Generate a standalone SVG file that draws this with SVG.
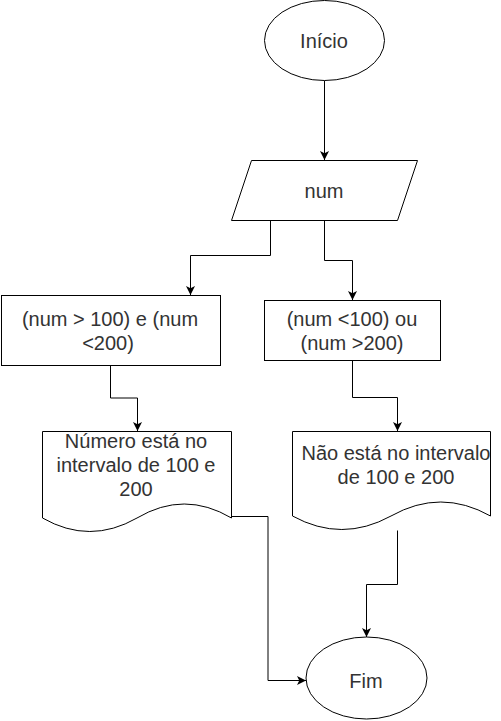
<svg xmlns="http://www.w3.org/2000/svg" width="501" height="721" viewBox="0 0 501 721">
<style>
.s{fill:#fff;stroke:#000;stroke-width:1}
.t{font-family:"Liberation Sans",Arial,sans-serif;font-size:20px;fill:#333;text-anchor:middle}
.c{fill:none;stroke:#000;stroke-width:1}
</style>
<defs>
<marker id="a" markerUnits="userSpaceOnUse" markerWidth="10" markerHeight="10" refX="9" refY="4.5" orient="auto">
<path d="M0,0 L9,4.5 L0,9 L2.25,4.5 Z" fill="#000"/>
</marker>
</defs>
<rect width="501" height="721" fill="#fff"/>
<g id="connectors">
<path class="c" d="M324.5,80.5 V160" marker-end="url(#a)"/>
<path class="c" d="M270.5,220.5 V255.5 H190.5 V295" marker-end="url(#a)"/>
<path class="c" d="M324.5,220.5 V260.5 H352.5 V300" marker-end="url(#a)"/>
<path class="c" d="M110.5,365.5 V398 H137.5 V431" marker-end="url(#a)"/>
<path class="c" d="M352.5,360.5 V397.5 H397.5 V431" marker-end="url(#a)"/>
<path class="c" d="M231.5,516.5 H268 V680.5 H306" marker-end="url(#a)"/>
<path class="c" d="M397.5,530.5 V584.5 H366.5 V637" marker-end="url(#a)"/>
</g>
<g id="start">
<ellipse class="s" cx="324.5" cy="40.5" rx="60" ry="40"/>
<text class="t" x="324" y="48">Início</text>
</g>
<g id="input">
<path class="s" d="M251.5,160.5 H417.5 L397.5,220.5 H231.5 Z"/>
<text class="t" x="324" y="198">num</text>
</g>
<g id="cond1">
<rect class="s" x="1.5" y="295.5" width="219" height="70"/>
<text class="t" x="110" y="326">(num &gt; 100) e (num</text>
<text class="t" x="108" y="350">&lt;200)</text>
</g>
<g id="cond2">
<rect class="s" x="264.5" y="300.5" width="176" height="60"/>
<text class="t" x="352" y="326">(num &lt;100) ou</text>
<text class="t" x="352" y="350">(num &gt;200)</text>
</g>
<g id="doc1">
<path class="s" d="M42.5,431.5 H231.5 V518 Q184.25,490 137,518 Q89.75,545 42.5,518 Z"/>
<text class="t" x="136" y="448">Número está no</text>
<text class="t" x="136" y="472">intervalo de 100 e</text>
<text class="t" x="136" y="496">200</text>
</g>
<g id="doc2">
<path class="s" d="M292.5,431.5 H490.5 V516 Q440.75,488 391,516 Q341.75,543 292.5,516 Z"/>
<text class="t" x="396" y="460">Não está no intervalo</text>
<text class="t" x="396" y="484">de 100 e 200</text>
</g>
<g id="end">
<ellipse class="s" cx="366.5" cy="678" rx="60.5" ry="41"/>
<text class="t" x="366" y="688">Fim</text>
</g>
</svg>
